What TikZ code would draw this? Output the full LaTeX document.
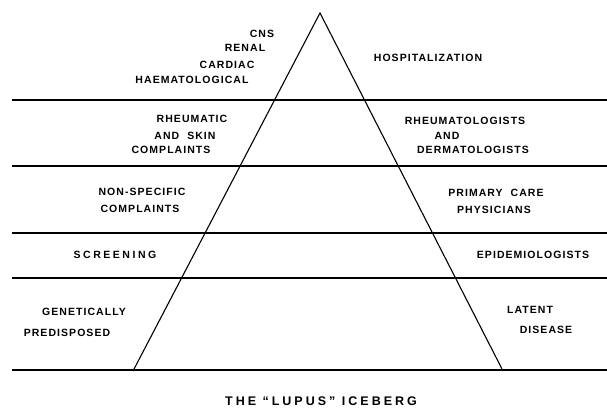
\documentclass[tikz,border=0pt]{standalone}
\usepackage{fontspec}
\newfontfamily\lblfont[LetterSpace=10]{Liberation Sans Bold}
\newfontfamily\widefont[LetterSpace=24]{Liberation Sans Bold}
\begin{document}
\begin{tikzpicture}[x=1pt,y=-1pt,
  lbl/.style={inner sep=0pt,font=\lblfont\fontsize{10.5}{12}\selectfont},
  widelbl/.style={inner sep=0pt,font=\widefont\fontsize{10.5}{12}\selectfont},
  ttl/.style={inner sep=0pt,font=\widefont\fontsize{12.5}{14}\selectfont},
  level/.style={line width=1.4pt},
  berg/.style={line width=1.1pt,line join=miter}]
\useasboundingbox (0,0) rectangle (607,411);
% iceberg
\coordinate (apex) at (320,13);
\coordinate (bl) at (133,371);
\coordinate (br) at (502,369);
\draw[berg] (bl) -- (apex) -- (br);
% level lines
\foreach \y [count=\i] in {100,166,233,278,370}{
  \coordinate (l\i) at (12,\y);
  \coordinate (r\i) at (607,\y);
  \draw[level] (l\i) -- (r\i);
}
% left labels
\node[lbl] (cns) at (262,34) {CNS};
\node[lbl] (renal) at (245,48) {RENAL};
\node[lbl] (cardiac) at (227,65) {CARDIAC};
\node[lbl] (haem) at (192,80) {HAEMATOLOGICAL};
\node[lbl] (rheu) at (192,119) {RHEUMATIC};
\node[lbl] (skin) at (185,136) {AND\ \ SKIN};
\node[lbl] (compl1) at (171,150) {COMPLAINTS};
\node[lbl] (nonspec) at (142,192) {NON-SPECIFIC};
\node[lbl] (compl2) at (140,209) {COMPLAINTS};
\node[widelbl] (screen) at (115,255) {SCREENING};
\node[lbl] (genet) at (84,312) {GENETICALLY};
\node[lbl] (predis) at (67,333) {PREDISPOSED};
% right labels
\node[lbl] (hosp) at (428,58) {HOSPITALIZATION};
\node[lbl] (rheumat) at (465,121) {RHEUMATOLOGISTS};
\node[lbl] (and) at (447,136) {AND};
\node[lbl] (derm) at (473,150) {DERMATOLOGISTS};
\node[lbl] (primary) at (496,193) {PRIMARY\ \ CARE};
\node[lbl] (phys) at (494,210) {PHYSICIANS};
\node[lbl] (epid) at (533,255) {EPIDEMIOLOGISTS};
\node[lbl] (latent) at (530,310) {LATENT};
\node[lbl] (disease) at (546,330) {DISEASE};
% title
\node[ttl] (title) at (321,401) {THE \textquotedblleft LUPUS\textquotedblright\ ICEBERG};
\end{tikzpicture}
\end{document}
